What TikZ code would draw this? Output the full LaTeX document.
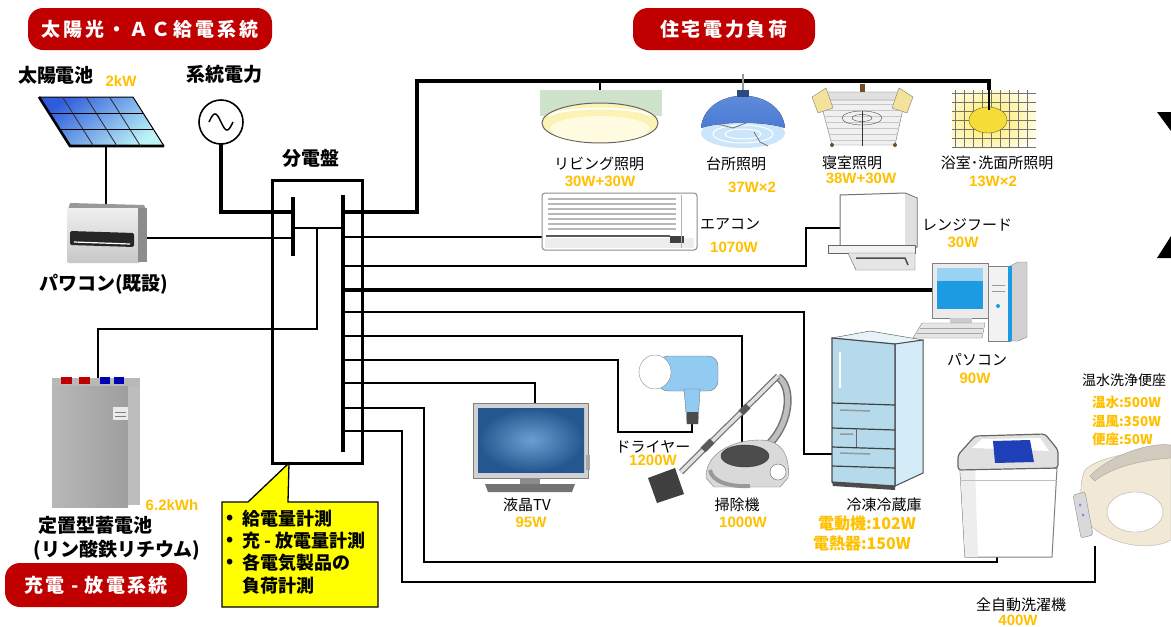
\documentclass[tikz,border=0pt]{standalone}
\usepackage{fontspec}
\newfontfamily\jp{Noto Sans CJK JP}
\newfontfamily\wattfont{Liberation Sans}

\definecolor{bannerred}{HTML}{C00000}
\definecolor{wattorange}{HTML}{FFC000}
\definecolor{memoyellow}{HTML}{FFFF00}
\definecolor{solarA}{HTML}{2F5CDB}
\definecolor{solarB}{HTML}{BDF3F7}
\definecolor{lampgreen}{HTML}{CFE3CC}
\definecolor{lampyellow}{HTML}{FBF2B4}
\definecolor{lampcream}{HTML}{FFFBE0}
\definecolor{sideyellow}{HTML}{F2E29A}
\definecolor{domeblue}{HTML}{4A7CD4}
\definecolor{domelight}{HTML}{CBE6FA}
\definecolor{bathglow}{HTML}{FFE74A}
\definecolor{bathlamp}{HTML}{F6DC36}
\definecolor{screenblue}{HTML}{1C9BE2}
\definecolor{fridgefront}{HTML}{B4DAEC}
\definecolor{fridgeside}{HTML}{D4ECF7}
\definecolor{fridgetop}{HTML}{E6F3F9}
\definecolor{tvdark}{HTML}{24578F}
\definecolor{tvlight}{HTML}{6C9FD0}
\definecolor{dryerblue}{HTML}{92CBF2}
\definecolor{washblue}{HTML}{1F3FB8}
\definecolor{seatbeige}{HTML}{F1E8D6}

\tikzset{
  every node/.style={inner sep=0pt, outer sep=0pt},
  biglbl/.style={font=\jp\bfseries\fontsize{19}{19}\selectfont},
  lbl/.style={font=\jp\fontsize{15}{15}\selectfont},
  watt/.style={font=\wattfont\bfseries\fontsize{15}{15}\selectfont, text=wattorange},
  wattjp/.style={font=\jp\bfseries\fontsize{16}{16}\selectfont, text=wattorange},
  banner/.style={fill=bannerred, rounded corners=15pt, text=white,
    font=\jp\bfseries\fontsize{19}{19}\selectfont},
  memo/.style={font=\jp\bfseries\fontsize{18}{18}\selectfont, anchor=west},
  wire/.style={line width=2pt},
  wire mid/.style={line width=2.8pt},
  wire thick/.style={line width=3.6pt},
  bus/.style={line width=3.8pt},
}

\begin{document}
\begin{tikzpicture}[x=1pt,y=-1pt]
\useasboundingbox (0,0) rectangle (1171,627);
\fill[white] (0,0) rectangle (1171,627);
\begin{scope}
\clip (0,0) rectangle (1171,627);

% ---------------- section banners ----------------
\node[banner, minimum width=244pt, minimum height=42pt] (bannerSupply) at (150,29)
  {\addfontfeature{LetterSpace=16}太陽光・ＡＣ給電系統};
\node[banner, minimum width=182pt, minimum height=42pt] (bannerLoad) at (724,29)
  {\addfontfeature{LetterSpace=14}住宅電力負荷};
\node[banner, minimum width=182pt, minimum height=44pt] (bannerStore) at (96,585)
  {\addfontfeature{LetterSpace=12}充電 - 放電系統};

% ---------------- connection points ----------------
\coordinate (pvFoot) at (106,146);
\coordinate (pcsTop) at (106,206);
\coordinate (pcsOut) at (147,238);
\coordinate (lbA) at (293,212);
\coordinate (lbB) at (293,238);
\coordinate (lbC) at (293,228);
\coordinate (rbC) at (343,228);
\coordinate (batTap) at (317,228);
\coordinate (batIn) at (98,386);
\coordinate (lbTop) at (293,197);
\coordinate (lbBot) at (293,256);
\coordinate (rbTop) at (343,195);
\coordinate (rbBot) at (343,452);
\foreach \n/\yy in {1/212,2/237,3/266,4/290,5/312,6/336,7/360,8/383,9/408,10/431}
  \coordinate (rb\n) at (343,\yy);
\coordinate (lampLiving) at (600,94);
\coordinate (lampBath) at (989,108);
\coordinate (acIn) at (542,237);
\coordinate (hoodIn) at (840,228);
\coordinate (pcIn) at (932,290);
\coordinate (fridgeIn) at (832,454);
\coordinate (vacIn) at (742,450);
\coordinate (dryerIn) at (692,424);
\coordinate (tvIn) at (535,405);
\coordinate (washIn) at (997,553);
\coordinate (seatIn) at (1095,546);

% ---------------- grid source ----------------
\node[circle, draw, line width=1.6pt, minimum size=44pt, fill=white] (grid) at (221,122) {};
\draw[line width=1.5pt] plot[domain=0:360, samples=37, smooth] ({209+\x*24/360},{122-8*sin(\x)});

% ---------------- wiring ----------------
\draw[wire] (pvFoot) -- (pcsTop);
\draw[wire thick] (grid.south) |- (lbA);
\draw[wire] (pcsOut) -- (lbB);
\draw[wire] (lbC) -- (rbC);
\draw[wire] (batTap) -- (317,329) -| (batIn);

\draw[wire thick] (rb1) -| (417,81) -| (lampBath);
\draw[line width=1.2pt] (600,81) -- (lampLiving);
\draw[wire] (rb2) -- (acIn);
\draw[wire] (rb3) -| (806,228) -- (hoodIn);
\draw[wire thick] (rb4) -- (pcIn);
\draw[wire mid] (rb5) -| (804,454) -- (fridgeIn);
\draw[wire] (rb6) -| (vacIn);
\draw[wire] (rb7) -| (618,432) -| (dryerIn);
\draw[wire] (rb8) -| (tvIn);
\draw[wire mid] (rb9) -| (424,562) -| (washIn);
\draw[wire mid] (rb10) -| (402,582) -| (seatIn);

% ---------------- distribution board ----------------
\node[draw, line width=3pt, minimum width=90pt, minimum height=283pt] (panel) at (317,321.5) {};
\draw[bus] (lbTop) -- (lbBot);
\draw[bus] (rbTop) -- (rbBot);

% ---------------- callout ----------------
\coordinate (memoTip) at (289,463);
\filldraw[fill=memoyellow, draw=black, line width=1.3pt]
  (222,502) -- (248,502) -- (memoTip) -- (288,502) -- (378,502) -- (378,607) -- (222,607) -- cycle;
\node[memo] (memoDot1) at (226,519) {•};
\node[memo] (memo1) at (242,519) {給電量計測};
\node[memo] (memoDot2) at (226,541) {•};
\node[memo] (memo2) at (242,541) {充 - 放電量計測};
\node[memo] (memoDot3) at (226,563) {•};
\node[memo] (memo3) at (242,563) {各電気製品の};
\node[memo] (memo4) at (242,586) {負荷計測};

% ---------------- solar panel ----------------
\shade[top color=solarA, bottom color=solarB, shading angle=40]
  (39,97) -- (133,97) -- (164,146) -- (70,146) -- cycle;
\draw[line width=1pt] (39,97) -- (133,97) -- (164,146);
\draw[line width=2.6pt] (39,97) -- (70,146) -- (164,146);
\foreach \u in {0.25,0.5,0.75}
  \draw[line width=0.9pt, black!80] ({39+94*\u},97) -- ({70+94*\u},146);
\foreach \v in {0.3333,0.6667}
  \draw[line width=1.6pt] ({39+31*\v},{97+49*\v}) -- ({133+31*\v},{97+49*\v});

% ---------------- power conditioner ----------------
\fill[black!40] (70,203) -- (144,205) -- (147,211) -- (68,210) -- cycle;
\shade[top color=black!6, bottom color=black!22, rounded corners=2pt] (67,208) rectangle (140,263);
\fill[black!45] (138,208) rectangle (147,262);
\fill[black!85, rounded corners=1.5pt] (70,231) -- (134,233) -- (134,247) -- (70,245) -- cycle;
\draw[white, line width=1.2pt] (74,242) -- (130,244);

% ---------------- storage battery ----------------
\fill[black!28] (52,378) rectangle (140,386);
\fill[red!75!black] (61,377) rectangle (72,384);
\fill[red!75!black] (79,377) rectangle (90,384);
\fill[blue!70!black] (100,377) rectangle (110,384);
\fill[blue!70!black] (114,377) rectangle (124,384);
\shade[left color=black!28, right color=black!38] (52,386) rectangle (128,507);
\fill[black!26] (128,386) rectangle (140,505);
\fill[black!8] (113,407) rectangle (128,420);
\draw[black!50, line width=0.8pt] (115,412) -- (126,412) (115,416) -- (126,416);

% ---------------- living room lamp ----------------
\fill[lampgreen] (540,90) rectangle (662,116);
\filldraw[fill=lampyellow, draw=black!60, line width=1pt] (600,123) ellipse [x radius=58pt, y radius=20pt];
\fill[lampcream] (600,129) ellipse [x radius=50pt, y radius=13pt];
\draw[white, line width=2pt] (548,116) .. controls (565,106) and (635,106) .. (652,116);

% ---------------- kitchen lamp ----------------
\draw[black!40, line width=1.5pt] (743,74) -- (743,92);
\fill[domelight] (743,133) ellipse [x radius=42pt, y radius=15pt];
\draw[white, line width=1pt] (743,134) ellipse [x radius=30pt, y radius=9pt];
\draw[white, line width=1pt] (743,134) ellipse [x radius=18pt, y radius=5pt];
\fill[top color=domeblue!85, bottom color=domeblue] (701,128) .. controls (705,85) and (781,85) .. (785,128)
  .. controls (765,121) and (721,121) .. (701,128) -- cycle;
\fill[domeblue!60!black] (737,90) rectangle (749,97);
\draw[black!55, line width=0.8pt] (718,124) -- (733,128) -- (746,123) (754,132) -- (760,142) -- (768,146);

% ---------------- bedroom lamp ----------------
\fill[brown!60!black] (860,84) rectangle (865,92);
\filldraw[fill=black!6, draw=black!55] (820,100) -- (905,100) -- (895,145) -- (832,145) -- cycle;
\foreach \yy in {104,110,...,140}
  \draw[black!22, line width=1pt] ({820+0.27*(\yy-100)},\yy) -- ({905-0.22*(\yy-100)},\yy);
\filldraw[fill=black!12, draw=black!60] (825,92) -- (900,92) -- (905,100) -- (820,100) -- cycle;
\filldraw[fill=sideyellow, draw=black!50] (812,97) -- (826,88) -- (833,108) -- (818,113) -- cycle;
\filldraw[fill=sideyellow, draw=black!50] (899,88) -- (913,97) -- (907,113) -- (892,108) -- cycle;
\draw[black!70] (862,118) ellipse [x radius=20pt, y radius=7pt];
\draw[black!70] (862,118) ellipse [x radius=10pt, y radius=3.5pt];
\draw[black!80, line width=1pt] (862,111) -- (862,146);
\fill[brown!60!black] (832,145) circle[radius=2pt] (895,145) circle[radius=2pt];

% ---------------- bathroom lamp ----------------
\begin{scope}
  \clip (952,90) rectangle (1036,148);
  \shade[inner color=bathglow, outer color=white] (988,120) ellipse [x radius=58pt, y radius=40pt];
  \foreach \xx in {955,964,...,1035} \draw[black!55, line width=0.7pt] (\xx,90) -- (\xx,148);
  \foreach \yy in {93,102,...,147} \draw[black!55, line width=0.7pt] (952,\yy) -- (1036,\yy);
\end{scope}
\filldraw[fill=bathlamp, draw=black!45!yellow!60!black] (988,120) ellipse [x radius=19pt, y radius=13pt];
\draw[line width=1.6pt] (989,81) -- (989,110);

% ---------------- air conditioner ----------------
\filldraw[fill=white, draw=black!45, line width=1pt, rounded corners=3pt] (542,193) rectangle (697,250);
\foreach \yy in {199,204,...,229} \draw[black!28, line width=1.6pt] (548,\yy) -- (676,\yy);
\fill[black!7] (545,238) rectangle (694,248);
\draw[black!65, line width=1.5pt] (546,236) -- (670,236);
\fill[black!75] (670,236) rectangle (684,243);
\draw[black!30] (681,195) -- (681,248);

% ---------------- range hood ----------------
\filldraw[fill=white, draw=black!55, line width=1pt] (840,195) -- (905,193) -- (917,198) -- (917,247) -- (840,247) -- cycle;
\fill[black!12] (905,194) -- (916,198) -- (916,246) -- (905,246) -- cycle;
\filldraw[fill=black!5, draw=black!60] (828,245) rectangle (915,253);
\filldraw[fill=black!10, draw=black!60] (848,253) -- (915,253) -- (915,270) -- (856,270) -- cycle;
\draw[black!70, line width=1.5pt] (856,258) -- (905,258) -- (908,265);

% ---------------- personal computer ----------------
\filldraw[fill=black!8, draw=black!50] (932,263) rectangle (988,318);
\fill[screenblue] (937,268) rectangle (983,309);
\fill[screenblue!45] (937,268) rectangle (983,281);
\fill[black!20] (950,318) rectangle (972,324);
\filldraw[fill=black!10, draw=black!50] (922,323) -- (985,323) -- (982,338) -- (913,338) -- cycle;
\draw[black!35] (920,328) -- (983,328) (917,333) -- (982,333);
\filldraw[fill=black!5, draw=black!50] (988,266) rectangle (1010,341);
\filldraw[fill=black!18, draw=black!50] (1010,266) -- (1018,262) -- (1027,262) -- (1027,337) -- (1018,341) -- (1010,341) -- cycle;
\fill[screenblue] (1008,266) rectangle (1012,341);
\fill[screenblue] (998,306) circle[radius=2pt];
\draw[black!40] (992,285) -- (1005,285) (992,291) -- (1005,291);

% ---------------- refrigerator ----------------
\filldraw[fill=fridgetop, draw=black!70] (832,338) -- (870,331) -- (923,340) -- (895,344) -- cycle;
\filldraw[fill=fridgeside, draw=black!70, line width=1pt] (895,344) -- (923,340) -- (923,473) -- (895,486) -- cycle;
\filldraw[fill=fridgefront, draw=black!70, line width=1.2pt] (832,338) -- (895,344) -- (895,486) -- (832,482) -- cycle;
\draw[black!75, line width=1.2pt] (832,403) -- (895,405) (832,428) -- (895,430) (832,447) -- (895,449) (832,466) -- (895,468);
\draw[black!60] (856,428) -- (856,447);
\draw[white, line width=2pt] (840,352) -- (840,388);
\draw[black!40, line width=1.5pt] (840,410) -- (870,411) (840,434) -- (853,434) (840,453) -- (870,454);
\fill[black!70] (832,482) -- (895,486) -- (895,490) -- (833,486) -- cycle;

% ---------------- television ----------------
\filldraw[fill=black!18, draw=black!50] (473,403) rectangle (588,478);
\shade[inner color=tvlight, outer color=tvdark] (478,408) rectangle (584,472);
\fill[black!35] (586,455) rectangle (590,470);
\fill[black!45] (520,478) rectangle (540,484);
\fill[black!55] (485,484) -- (575,484) -- (572,492) -- (488,492) -- cycle;

% ---------------- hair dryer ----------------
\filldraw[fill=dryerblue, draw=black!55, rounded corners=10pt] (658,356) rectangle (718,391);
\filldraw[fill=white, draw=black!45] (655,372) ellipse [x radius=16pt, y radius=17pt];
\filldraw[fill=dryerblue, draw=black!55] (684,389) -- (700,389) -- (698,424) -- (687,424) -- cycle;
\fill[black!70] (687,412) rectangle (698,424);

% ---------------- vacuum cleaner ----------------
\draw[black!55, line width=8pt] (770,443) .. controls (792,420) and (792,385) .. (778,377);
\draw[black!25, line width=5pt] (770,443) .. controls (792,420) and (792,385) .. (778,377);
\draw[black!55, line width=6pt] (778,376) -- (681,472);
\draw[black!12, line width=3.5pt] (778,376) -- (681,472);
\draw[black!65, line width=7pt] (748,406) -- (741,413) (712,441) -- (703,450);
\fill[black!75] (648,478) -- (675,468) -- (684,494) -- (657,503) -- cycle;
\filldraw[fill=black!15, draw=black!50] (706,478) .. controls (705,455) and (730,440) .. (760,440)
  .. controls (785,440) and (790,460) .. (788,478) -- (780,487) -- (714,487) -- cycle;
\filldraw[fill=black!70, draw=black!80] (745,456) ellipse [x radius=24pt, y radius=11pt];
\filldraw[fill=white, draw=black!60] (778,472) circle[radius=8pt];
\draw[black!40, line width=4pt] (710,470) .. controls (712,482) and (730,487) .. (750,486);

% ---------------- washing machine ----------------
\filldraw[fill=white, draw=black!50, line width=1pt] (960,468) -- (1057,468) -- (1052,557) -- (965,557) -- cycle;
\fill[black!7] (960,468) -- (975,468) -- (978,557) -- (965,557) -- cycle;
\filldraw[fill=black!12, draw=black!60, line width=1.2pt, rounded corners=3pt]
  (958,455) -- (975,436) -- (1045,434) -- (1058,450) -- (1058,468) -- (958,470) -- cycle;
\fill[white] (972,448) -- (982,439) -- (1040,438) -- (1049,451) -- cycle;
\fill[washblue] (993,441) -- (1030,440) -- (1034,462) -- (995,463) -- cycle;
\draw[black!25] (960,480) -- (1057,480);

% ---------------- toilet seat ----------------
\filldraw[fill=seatbeige, draw=black!30] (1085,470) .. controls (1100,455) and (1150,448) .. (1171,455)
  -- (1171,540) .. controls (1150,552) and (1110,545) .. (1090,525) .. controls (1080,510) and (1078,485) .. (1085,470) -- cycle;
\filldraw[fill=white, draw=black!30] (1135,512) ellipse [x radius=28pt, y radius=20pt];
\filldraw[fill=seatbeige!85!black!90, draw=black!35] (1090,476) .. controls (1110,455) and (1150,442) .. (1171,445)
  -- (1171,458) .. controls (1140,460) and (1110,468) .. (1095,481) -- cycle;
\filldraw[fill=black!15, draw=black!45, rounded corners=2pt] (1073,495) -- (1085,492) -- (1093,535) -- (1081,538) -- cycle;
\fill[blue!50] (1080,505) circle[radius=1.5pt] (1083,515) circle[radius=1.5pt];

% ---------------- edge marks ----------------
\fill (1157,112) -- (1171,112) -- (1171,131) -- cycle;
\fill (1157,258) -- (1171,258) -- (1171,236) -- cycle;

% ---------------- labels ----------------
\node[biglbl] (tPV) at (56,75) {太陽電池};
\node[watt] (wPV) at (121,81) {2kW};
\node[biglbl] (tGrid) at (224,74) {系統電力};
\node[biglbl] (tPanel) at (311,158) {分電盤};
\node[biglbl] (tPCS) at (104,284) {パワコン(既設)};
\node[watt] (wBat) at (172,505) {6.2kWh};
\node[biglbl] (tBat) at (95,525) {定置型蓄電池};
\node[biglbl] (tBat2) at (117,550) {(リン酸鉄リチウム)};

\node[lbl] (tLiving) at (599,164) {リビング照明};
\node[watt] (wLiving) at (600,181) {30W+30W};
\node[lbl] (tKitchen) at (736,164) {台所照明};
\node[watt] (wKitchen) at (752,187) {37W×2};
\node[lbl] (tBed) at (852,163) {寝室照明};
\node[watt] (wBed) at (861,178) {38W+30W};
\node[lbl] (tBath) at (997,163) {浴室･洗面所照明};
\node[watt] (wBath) at (993,181) {13W×2};
\node[lbl] (tAC) at (730,224) {エアコン};
\node[watt] (wAC) at (734,247) {1070W};
\node[lbl] (tHood) at (967,225) {レンジフード};
\node[watt] (wHood) at (963,242) {30W};
\node[lbl] (tPC) at (977,360) {パソコン};
\node[watt] (wPC) at (975,378) {90W};
\node[lbl, anchor=west, font=\jp\fontsize{14}{14}\selectfont] (tSeat) at (1082,380) {温水洗浄便座};
\node[wattjp, anchor=west, font=\jp\bfseries\fontsize{13.5}{14}\selectfont] (wSeat1) at (1092,402) {温水:500W};
\node[wattjp, anchor=west, font=\jp\bfseries\fontsize{13.5}{14}\selectfont] (wSeat2) at (1092,421) {温風:350W};
\node[wattjp, anchor=west, font=\jp\bfseries\fontsize{13.5}{14}\selectfont] (wSeat3) at (1092,439) {便座:50W};
\node[lbl] (tFridge) at (884,505) {冷凍冷蔵庫};
\node[wattjp] (wFridge1) at (867,523) {電動機:102W};
\node[wattjp] (wFridge2) at (862,543) {電熱器:150W};
\node[lbl] (tWash) at (1021,605) {全自動洗濯機};
\node[watt] (wWash) at (1018,620) {400W};
\node[lbl] (tTV) at (527,505) {液晶TV};
\node[watt] (wTV) at (531,522) {95W};
\node[lbl] (tDryer) at (653,447) {ドライヤー};
\node[watt] (wDryer) at (653,460) {1200W};
\node[lbl] (tVac) at (737,505) {掃除機};
\node[watt] (wVac) at (743,522) {1000W};
\end{scope}
\end{tikzpicture}
\end{document}
